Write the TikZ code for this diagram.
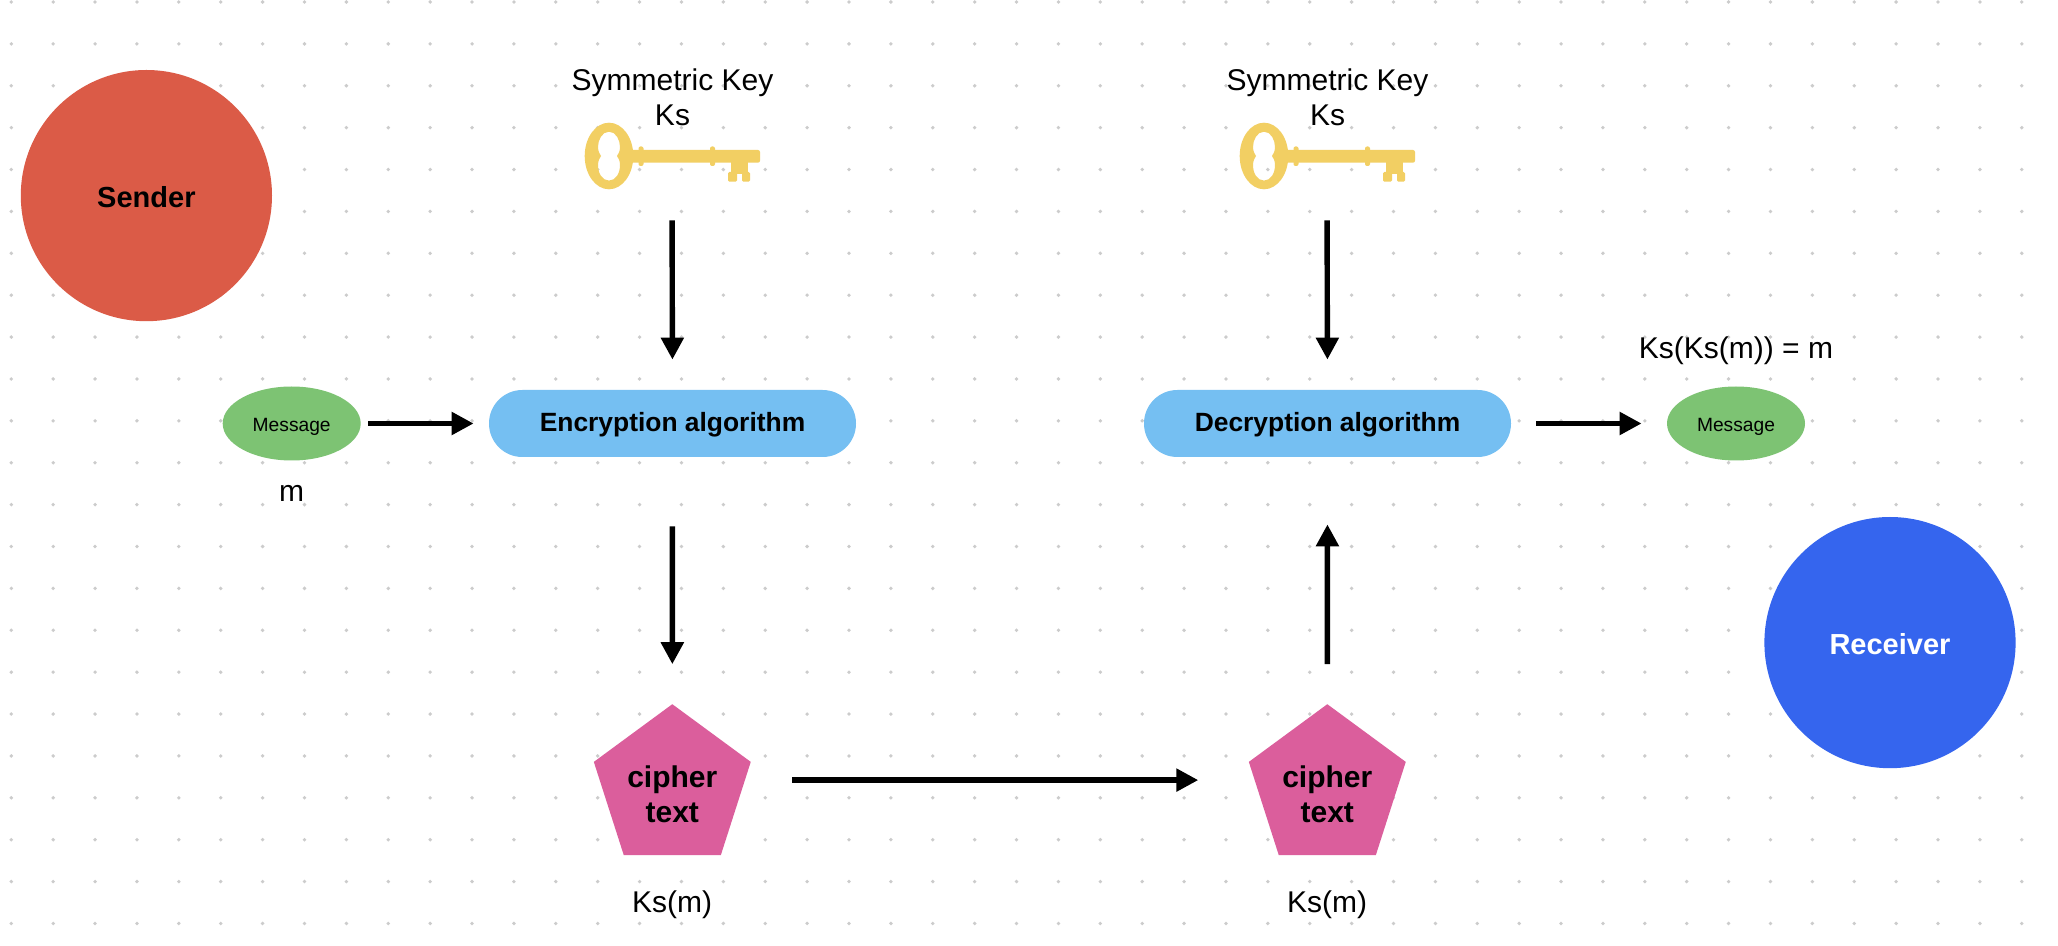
\documentclass[tikz,border=0pt]{standalone}
\usepackage{fontspec}
\setmainfont{Liberation Sans}
\usetikzlibrary{shapes.geometric,arrows.meta}
\definecolor{senderc}{HTML}{DB5B47}
\definecolor{recvc}{HTML}{3565EE}
\definecolor{greenc}{HTML}{7DC373}
\definecolor{bluec}{HTML}{75BFF2}
\definecolor{pinkc}{HTML}{DB5E9C}
\definecolor{keyc}{HTML}{F2CF63}
\definecolor{dotc}{HTML}{CCCCCC}
\newcommand{\lowertext}[2]{\smash{\raisebox{-#1}{#2}}}
\tikzset{
  x=0.5pt,y=-0.5pt,
  party/.style={circle,minimum size=125.6pt,inner sep=0,font=\fontsize{14.5}{17}\selectfont\bfseries},
  msg/.style={ellipse,fill=greenc,minimum width=69pt,minimum height=37pt,inner sep=0,font=\fontsize{9.6}{11}\selectfont},
  algo/.style={rectangle,fill=bluec,rounded corners=16.7pt,minimum width=183.5pt,minimum height=33.5pt,inner sep=0,font=\fontsize{13.2}{16}\selectfont\bfseries},
  penta/.style={regular polygon,regular polygon sides=5,fill=pinkc,minimum size=82.5pt,inner sep=0,outer sep=0,yscale=1.012,transform shape},
  pentatext/.style={align=center,inner sep=0,font=\fontsize{15}{17.5}\selectfont\bfseries},
  lbl/.style={align=center,inner sep=0,font=\fontsize{15}{17.5}\selectfont},
  keybox/.style={rectangle,minimum width=88pt,minimum height=33pt,inner sep=0},
  arr/.style={draw=black,line width=2.7pt,-{Triangle[length=11pt,width=11pt]}},
  keyshape/.pic={
    \fill[keyc,even odd rule]
      (-63,0) ellipse [x radius=24.3,y radius=33.3]
      (-63,-24.3) .. controls (-56,-24.3) and (-52,-16) .. (-52,-9)
      .. controls (-52,-4) and (-54,-2) .. (-55,0)
      .. controls (-54,2) and (-52,4) .. (-52,9)
      .. controls (-52,17) and (-56,24.6) .. (-63,24.6)
      .. controls (-70,24.6) and (-74,17) .. (-74,9)
      .. controls (-74,4) and (-72,2) .. (-71,0)
      .. controls (-72,-2) and (-74,-4) .. (-74,-9)
      .. controls (-74,-16) and (-70,-24.3) .. (-63,-24.3) -- cycle;
    \fill[keyc,rounded corners=1pt] (-42,-6) rectangle (88,6.7);
    \fill[keyc,rounded corners=1pt] (-33.5,-9.5) rectangle (-28.5,10);
    \fill[keyc,rounded corners=1pt] (38,-9.5) rectangle (43,10);
    \fill[keyc] (59,5) rectangle (76,18);
    \fill[keyc,rounded corners=0.7pt] (56,16) rectangle (65,25.7);
    \fill[keyc,rounded corners=0.7pt] (70,16) rectangle (78,25.7);
  }
}
\begin{document}
\begin{tikzpicture}
\useasboundingbox (0,0) rectangle (2058,946);
\fill[white] (0,0) rectangle (2058,946);
\foreach \i in {0,...,48}{\foreach \j in {0,...,22}{
  \fill[dotc] ({11.3+41.885*\i},{2+41.885*\j}) circle [radius=1.9];
}}
% parties
\node[party,fill=senderc,text=black] (sender) at (146.4,195.6) {\lowertext{5.85pt}{Sender}};
\node[party,fill=recvc,text=white] (receiver) at (1890,642.6) {\lowertext{5.85pt}{Receiver}};
% messages
\node[msg] (m1) at (291.7,423.5) {\lowertext{4.05pt}{Message}};
\node[msg] (m2) at (1736,423.5) {\lowertext{4.05pt}{Message}};
\node[lbl] (mlabel) at (291.7,493) {m};
\node[lbl] (result) at (1736,351) {Ks(Ks(m)) = m};
% algorithms
\node[algo] (enc) at (672.5,423.5) {\lowertext{3.85pt}{Encryption algorithm}};
\node[algo] (dec) at (1327.5,423.5) {\lowertext{3.85pt}{Decryption algorithm}};
% ciphers
\node[penta] (c1) at (672.3,787.7) {};
\node[penta] (c2) at (1327.3,787.7) {};
\node[pentatext] (c1t) at (672.3,794) {cipher\\text};
\node[pentatext] (c2t) at (1327.3,794) {cipher\\text};
\node[lbl] (k1m) at (672,905) {Ks(m)};
\node[lbl] (k2m) at (1327,905) {Ks(m)};
% keys
\node[lbl] (kt1) at (672.5,97) {Symmetric Key\\Ks};
\node[lbl] (kt2) at (1327.5,97) {Symmetric Key\\Ks};
\node[keybox] (key1) at (672,156) {};
\node[keybox] (key2) at (1327,156) {};
\pic at (672,156) {keyshape};
\pic at (1327,156) {keyshape};
% connectors
\draw[arr,shorten <=15.5pt,shorten >=15pt] (key1.south) -- (enc.north);
\draw[arr,shorten <=15.5pt,shorten >=15pt] (key2.south) -- (dec.north);
\draw[arr,shorten <=3.5pt,shorten >=7.5pt] (m1.east) -- (enc.west);
\draw[arr,shorten <=12.5pt,shorten >=12.5pt] (dec.east) -- (m2.west);
\draw[arr,shorten <=34.5pt,shorten >=20pt] (enc.south) -- (c1.north);
\draw[arr,shorten <=20pt,shorten >=33.5pt] (c2.corner 1) -- (dec.south);
\draw[arr,shorten <=60pt,shorten >=64.5pt] ([yshift=3.8pt]c1.center) -- ([yshift=3.8pt]c2.center);
\end{tikzpicture}
\end{document}
